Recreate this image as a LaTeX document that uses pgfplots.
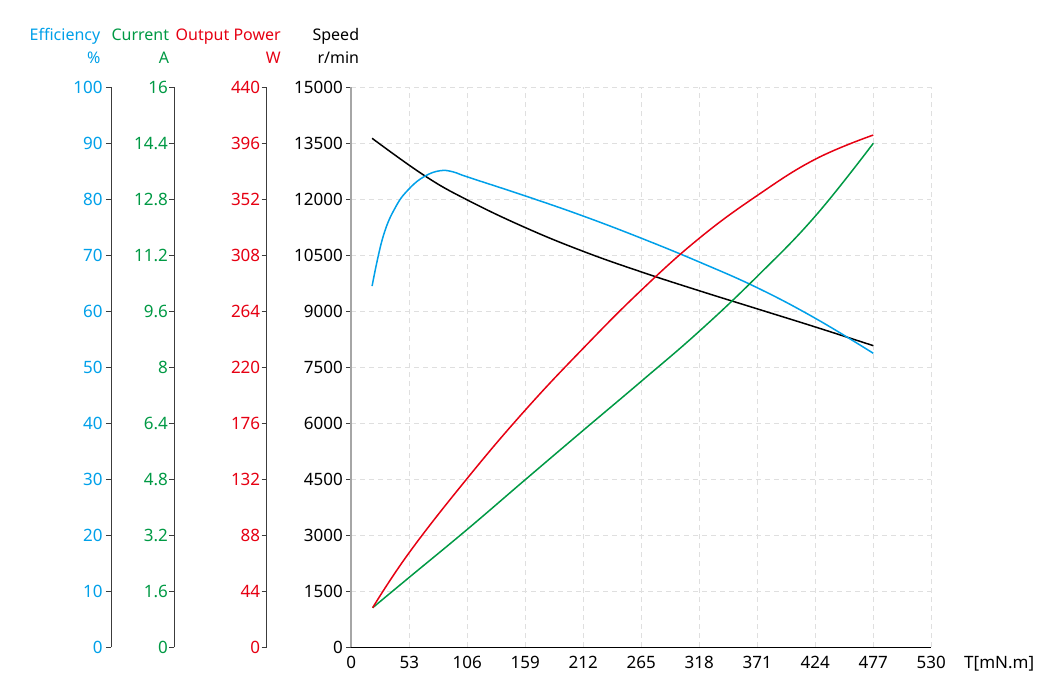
\documentclass[border=0pt]{standalone}
\usepackage{fontspec}
\setmainfont{Noto Sans}
\usepackage{pgfplots}
\pgfplotsset{compat=1.18}

\definecolor{effblue}{RGB}{0,160,233}
\definecolor{curgreen}{RGB}{0,153,68}
\definecolor{powred}{RGB}{230,0,18}
\definecolor{axisgray}{RGB}{60,60,60}

\newcommand{\ticksize}{\fontsize{17bp}{19bp}\selectfont}
\newcommand{\titlesize}{\fontsize{16bp}{20bp}\selectfont}

\pgfplotsset{
  plotarea/.style={scale only axis, width=580bp, height=560bp,
    at={(351.3bp,29.7bp)}, anchor=south west, xmin=0, xmax=530},
  sideaxis/.style={scale only axis, width=1bp, height=560bp,
    anchor=south west, xmin=0, xmax=1, hide x axis,
    axis y line*=left, axis line style={-, axisgray, line width=0.8bp},
    ytick style={axisgray, line width=0.8bp},
    tick align=outside, major tick length=5bp, scaled y ticks=false,
    tick label style={font=\ticksize}},
  curve/.style={line width=1.5bp, smooth, tension=0.7, no markers},
}

\begin{document}
\begin{tikzpicture}
\useasboundingbox (0,0) rectangle (1062bp,677bp);

% speed axis with grid
\begin{axis}[plotarea, ymin=0, ymax=15000,
  axis x line*=bottom, axis y line*=left, axis line style={-},
  x axis line style={black, line width=1.2bp},
  y axis line style={gray!70, line width=2bp},
  scaled ticks=false,
  xtick={0,53,106,159,212,265,318,371,424,477,530},
  xticklabels={0,53,106,159,212,265,318,371,424,477,530},
  ytick={0,1500,3000,4500,6000,7500,9000,10500,12000,13500,15000},
  yticklabels={0,1500,3000,4500,6000,7500,9000,10500,12000,13500,15000},
  xtick style={draw=none},
  ytick style={axisgray, line width=0.8bp},
  tick align=outside, major tick length=5bp,
  tick label style={font=\ticksize},
  grid=major,
  grid style={gray!25, line width=0.7bp, dash pattern=on 5bp off 4bp},
]
\addplot[curve, black] table {
T n
19 13634
67 12632
106 11982
159 11242
212 10605
265 10055
318 9550
371 9065
424 8580
477 8079
};
\end{axis}

% efficiency curve
\begin{axis}[plotarea, hide axis, ymin=0, ymax=100]
\addplot[curve, effblue] table {
T eff
19 64.5
29 73.3
41 78.8
53.5 82.0
67 84.1
81 85.1
93 84.9
106 84.0
159 80.6
212 77.0
265 73.05
318 68.8
371 64.2
424 58.75
477 52.5
};
\end{axis}

% current curve
\begin{axis}[plotarea, hide axis, ymin=0, ymax=16]
\addplot[curve, curgreen] table {
T I
19.5 1.13
53 2.00
106 3.37
159 4.79
212 6.20
265 7.60
318 9.03
371 10.60
424 12.32
477 14.40
};
\end{axis}

% output power curve
\begin{axis}[plotarea, hide axis, ymin=0, ymax=440]
\addplot[curve, powred] table {
T P
19.5 31.1
53 74.5
106 132.8
159 186.4
212 235
265 280.6
318 321.4
371 355
424 383.5
477 402.5
};
\end{axis}

% side axes
\begin{axis}[sideaxis, at={(111bp,29.7bp)}, ymin=0, ymax=100,
  ytick={0,10,20,30,40,50,60,70,80,90,100},
  yticklabels={0,10,20,30,40,50,60,70,80,90,100},
  yticklabel style={text=effblue}]
\end{axis}
\begin{axis}[sideaxis, at={(174.3bp,29.7bp)}, ymin=0, ymax=16,
  ytick={0,1.6,3.2,4.8,6.4,8,9.6,11.2,12.8,14.4,16},
  yticklabels={0,1.6,3.2,4.8,6.4,8,9.6,11.2,12.8,14.4,16},
  yticklabel style={text=curgreen, xshift=2bp}]
\end{axis}
\begin{axis}[sideaxis, at={(266.7bp,29.7bp)}, ymin=0, ymax=440,
  ytick={0,44,88,132,176,220,264,308,352,396,440},
  yticklabels={0,44,88,132,176,220,264,308,352,396,440},
  yticklabel style={text=powred, xshift=2bp}]
\end{axis}

% axis titles
\begin{scope}[every node/.style={anchor=base east, inner sep=0pt, font=\titlesize}]
\node[text=effblue] at (100.5bp,636bp) {Efficiency};
\node[text=effblue] at (100.5bp,613bp) {\%};
\node[text=curgreen] at (169.3bp,636bp) {Current};
\node[text=curgreen] at (169.3bp,613bp) {A};
\node[text=powred] at (281bp,636bp) {Output Power};
\node[text=powred] at (281bp,613bp) {W};
\node[text=black] at (359.3bp,636bp) {Speed};
\node[text=black] at (359.3bp,613bp) {r/min};
\end{scope}
\node[anchor=base west, inner sep=0pt, font=\ticksize] at (964bp,8.7bp) {T[mN.m]};
\end{tikzpicture}
\end{document}
